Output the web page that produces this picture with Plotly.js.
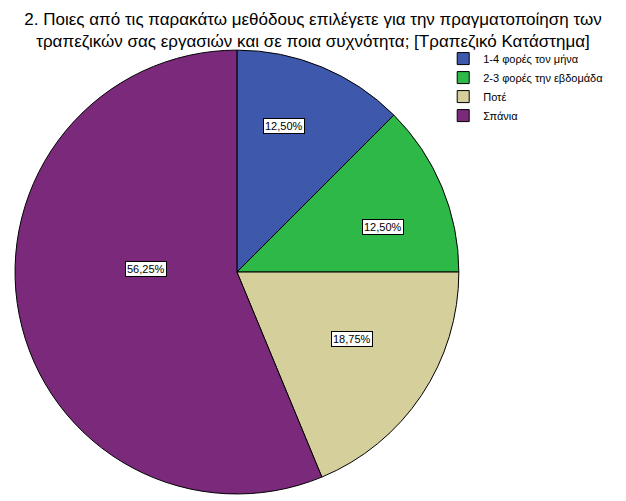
<!DOCTYPE html>
<html>
<head>
<meta charset="utf-8">
<script src="https://cdn.plot.ly/plotly-3.0.1.min.js"></script>
<style>
  html, body { margin: 0; padding: 0; background: #fff; }
  #chart { width: 626px; height: 501px; }
</style>
</head>
<body>
<div id="chart"></div>
<script>
// answers and counts (respondents)
const categories = ['1-4 φορές τον μήνα', '2-3 φορές την εβδομάδα', 'Ποτέ', 'Σπάνια'];
const counts = [2, 2, 3, 9];
const sliceColors = ['#3e58ac', '#2eb848', '#d4cf9b', '#7b2a7b'];
const titleText = '2. Ποιες από τις παρακάτω μεθόδους επιλέγετε για την πραγματοποίηση των<br>τραπεζικών σας εργασιών και σε ποια συχνότητα; [Τραπεζικό Κατάστημα]';

const W = 626, H = 501;
const pieDomain = { x: [0.024, 0.733], y: [0.014, 0.9] };
// label box placement: fraction of radius and a small nudge in degrees
const labelRadius = [0.69, 0.69, 0.60, 0.41];
const labelNudge = [-4.5, 5.5, -3.75, 13];

const total = counts.reduce((a, b) => a + b, 0);
const pctText = counts.map(c => (c / total * 100).toFixed(2).replace('.', ',') + '%');

// pie geometry, same as plotly works it out
const cx = (pieDomain.x[0] + pieDomain.x[1]) / 2;
const cy = (pieDomain.y[0] + pieDomain.y[1]) / 2;
const rPx = Math.min((pieDomain.x[1] - pieDomain.x[0]) * W, (pieDomain.y[1] - pieDomain.y[0]) * H) / 2;

let acc = 0;
const annotations = counts.map((c, i) => {
  // clockwise from 12 o'clock
  const mid = ((acc + c / 2) / total * 360 + labelNudge[i]) * Math.PI / 180;
  acc += c;
  const r = rPx * labelRadius[i];
  return {
    x: cx + r * Math.sin(mid) / W,
    y: cy + r * Math.cos(mid) / H,
    xref: 'paper', yref: 'paper',
    xanchor: 'center', yanchor: 'middle',
    text: pctText[i],
    showarrow: false,
    font: { family: 'Liberation Sans, Arial, sans-serif', size: 11, color: '#000' },
    bgcolor: '#fff',
    bordercolor: '#000',
    borderwidth: 1,
    borderpad: 1
  };
});

const trace = {
  type: 'pie',
  labels: categories,
  values: counts,
  sort: false,
  direction: 'clockwise',
  rotation: 0,
  textinfo: 'none',
  hoverinfo: 'label+percent',
  domain: pieDomain,
  marker: { colors: sliceColors, line: { color: '#000', width: 1 } }
};

const layout = {
  width: W, height: H,
  margin: { l: 0, r: 0, t: 0, b: 0 },
  paper_bgcolor: '#fff',
  title: {
    text: titleText,
    font: { family: 'Liberation Sans, Arial, sans-serif', size: 17, color: '#000' },
    x: 0.5, xanchor: 'center',
    y: 0.951, yanchor: 'top'
  },
  showlegend: true,
  legend: {
    x: 0.708, xanchor: 'left',
    y: 0.912, yanchor: 'top',
    font: { family: 'Liberation Sans, Arial, sans-serif', size: 11, color: '#000' },
    bgcolor: 'rgba(0,0,0,0)',
    tracegroupgap: 0,
    itemwidth: 30
  },
  annotations: annotations
};

Plotly.newPlot('chart', [trace], layout, { displayModeBar: false, staticPlot: true });
</script>
</body>
</html>
